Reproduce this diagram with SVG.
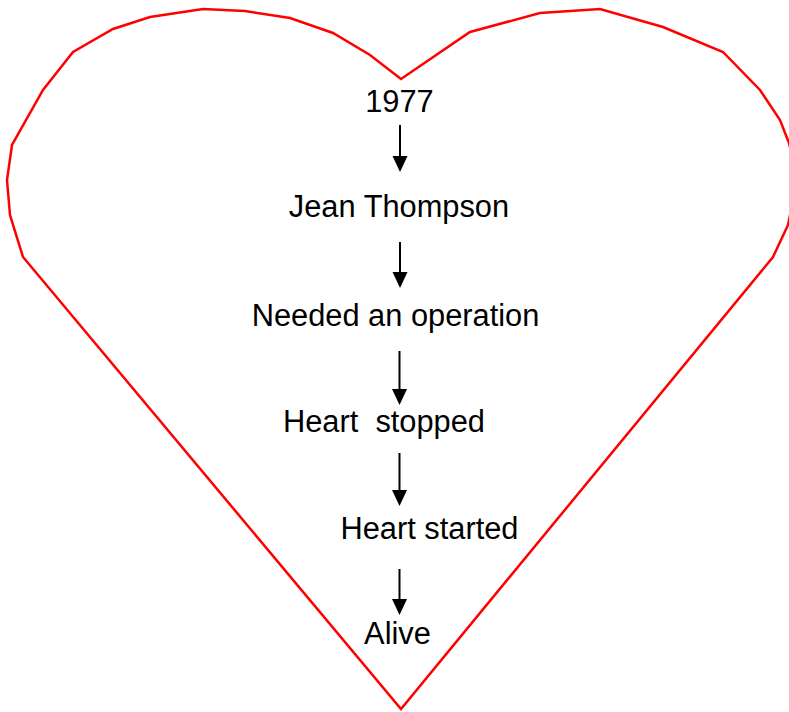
<svg xmlns="http://www.w3.org/2000/svg" width="789" height="712" viewBox="0 0 789 712">
<style>
.lbl{font-family:"Liberation Sans",Arial,sans-serif;font-size:30.8px;fill:#000;text-anchor:middle}
.con{stroke:#000;stroke-width:2;fill:none}
.head{fill:#000}
.heart{stroke:#ff0000;stroke-width:2.5;fill:none;stroke-linejoin:miter}
</style>
<rect width="789" height="712" fill="#fff"/>
<g id="heart">
<path class="heart" d="M401,79 L370,55 L333,33 L290,18 L245,11 L203,9 L150,17 L113,29 L73,52 L43,90 L12,145 L7,180 L10,215 L23,257 L401,709 L773,257 L788,225 L795,190 L793,160 L789,143 L780,120 L760,90 L723,52 L663,27 L600,9 L540,13 L470,32 Z"/>
</g>
<g id="connectors">
<line class="con" x1="400" y1="125" x2="400" y2="157"/><path class="head" d="M392.5,156 L407.5,156 L400,172 Z"/>
<line class="con" x1="400" y1="242" x2="400" y2="273"/><path class="head" d="M392.5,272 L407.5,272 L400,288 Z"/>
<line class="con" x1="399.5" y1="351" x2="399.5" y2="390"/><path class="head" d="M392,389 L407,389 L399.5,405 Z"/>
<line class="con" x1="399.5" y1="453" x2="399.5" y2="491"/><path class="head" d="M392,490 L407,490 L399.5,506 Z"/>
<line class="con" x1="399.5" y1="569" x2="399.5" y2="600"/><path class="head" d="M392,599 L407,599 L399.5,615 Z"/>
</g>
<g id="n1977"><text class="lbl" x="399.5" y="112">1977</text></g>
<g id="jean"><text class="lbl" x="399" y="217">Jean Thompson</text></g>
<g id="needed"><text class="lbl" x="395.5" y="326">Needed an operation</text></g>
<g id="stopped"><text class="lbl" x="384" y="432" xml:space="preserve">Heart  stopped</text></g>
<g id="started"><text class="lbl" x="429.5" y="539">Heart started</text></g>
<g id="alive"><text class="lbl" x="397.5" y="644">Alive</text></g>
</svg>
